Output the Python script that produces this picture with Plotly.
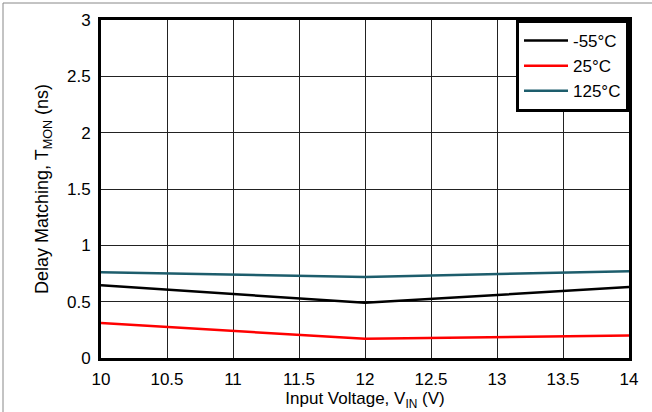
import plotly.graph_objects as go

# Input voltage sweep (V)
vin = [10, 12, 14]

# Delay matching T_MON (ns) at each temperature
t_m55 = [0.645, 0.49, 0.63]
t_25 = [0.31, 0.17, 0.20]
t_125 = [0.76, 0.72, 0.77]

series = [
    ("-55°C", t_m55, "#000000"),
    ("25°C", t_25, "#ff0000"),
    ("125°C", t_125, "#1d5d6c"),
]

x_ticks = [10, 10.5, 11, 11.5, 12, 12.5, 13, 13.5, 14]
y_ticks = [0, 0.5, 1, 1.5, 2, 2.5, 3]

fig = go.Figure()
for name, vals, color in series:
    fig.add_trace(go.Scatter(x=vin, y=vals, mode="lines", name=name,
                             line=dict(color=color, width=2.5)))

FAMILY = "Arial, Liberation Sans, sans-serif"
font = dict(family=FAMILY, size=17, color="#000000")

fig.update_layout(
    width=652, height=412,
    margin=dict(l=101, r=23, t=20, b=54),
    paper_bgcolor="white", plot_bgcolor="white",
    font=font,
    showlegend=True,
    legend=dict(x=1, y=1, xanchor="right", yanchor="top",
                bgcolor="white", bordercolor="black", borderwidth=3,
                font=dict(family=FAMILY, size=17, color="#000000"),
                tracegroupgap=0, itemwidth=44),
    xaxis=dict(range=[10, 14], tickvals=x_ticks,
               ticktext=[f"{v:g}" for v in x_ticks],
               showgrid=True, gridcolor="#222222", gridwidth=1,
               showline=True, linecolor="black", linewidth=3, mirror=True,
               ticks="", zeroline=False, ticklabelstandoff=4,
               automargin=False,
               tickfont=dict(family=FAMILY, size=17, color="#000000"),
               title=dict(text="Input Voltage, V<sub>IN</sub> (V)", standoff=3,
                          font=dict(family=FAMILY, size=17, color="#000000"))),
    yaxis=dict(range=[0, 3], tickvals=y_ticks,
               ticktext=[f"{v:g}" for v in y_ticks],
               showgrid=True, gridcolor="#222222", gridwidth=1,
               showline=True, linecolor="black", linewidth=3, mirror=True,
               ticks="", zeroline=False, ticklabelstandoff=4,
               automargin=False,
               tickfont=dict(family=FAMILY, size=17, color="#000000"),
               title=dict(text="Delay Matching, T<sub>MON</sub> (ns)", standoff=14,
                          font=dict(family=FAMILY, size=18, color="#000000"))),
)

# Outer frame around the figure
fig.add_shape(type="rect", xref="paper", yref="paper",
              x0=-98 / 528, x1=1.2, y0=-0.3, y1=1 + 17 / 338,
              line=dict(color="#888888", width=1), layer="below")

fig.write_html("out.html")
